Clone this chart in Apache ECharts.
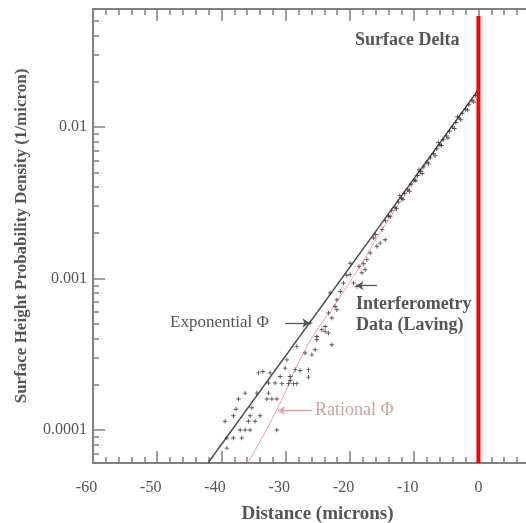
<!DOCTYPE html>
<html><head><meta charset="utf-8">
<script src="https://cdn.jsdelivr.net/npm/echarts@6/dist/echarts.min.js"></script>
<style>html,body{margin:0;padding:0;background:#fff}#c{width:526px;height:523px}</style>
</head><body><div id="c"></div>
<script>
// Interferometry data (Laving): [distance (microns), density (1/micron)]
const interferometryData = [
  [-34.25,2.38e-4],[-33.57,2.43e-4],[-32.43,2.38e-4],[-30.09,2.56e-4],[-28.53,2.50e-4],[-27.76,2.47e-4],
  [-26.46,2.50e-4],[-26.46,2.23e-4],[-30.87,2.25e-4],[-29.31,2.25e-4],[-32.69,2.04e-4],[-31.65,2.04e-4],
  [-30.61,2.02e-4],[-29.58,2.02e-4],[-28.8,2.02e-4],[-28.27,2.02e-4],[-29.31,2.12e-4],[-36.32,1.75e-4],
  [-34.5,1.75e-4],[-32.69,1.75e-4],[-37.37,1.60e-4],[-32.94,1.60e-4],[-32.16,1.60e-4],[-31.39,1.60e-4],
  [-37.73,1.37e-4],[-35.28,1.40e-4],[-38.15,1.24e-4],[-35.55,1.24e-4],[-33.99,1.24e-4],[-39.44,1.14e-4],
  [-35.81,1.14e-4],[-34.77,1.14e-4],[-37.1,1.0e-4],[-36.32,1.0e-4],[-35.55,1.0e-4],[-31.39,1.0e-4],
  [-39.17,8.84e-5],[-38.15,8.84e-5],[-36.84,8.84e-5],[-39.17,7.59e-5],[-28.27,3.56e-4],[-26.98,3.22e-4],
  [-25.93,3.13e-4],[-29.83,2.90e-4],
  [-26.2,5.08e-4],[-25.16,3.94e-4],[-25.42,3.38e-4],[-23.86,4.47e-4],[-23.35,4.36e-4],[-22.82,3.65e-4],
  [-22.04,6.21e-4],[-19.97,1.26e-3],[-21.01,9.33e-4],[-19.45,9.33e-4],[-18.93,8.85e-4],[-18.15,1.09e-3],
  [-17.63,1.14e-3],[-23.08,8.01e-4],[-22.04,7.23e-4],[-22.31,6.53e-4],[-23.35,5.91e-4],[-22.82,5.48e-4],
  [-24.38,4.58e-4],[-25.16,4.14e-4],[-23.86,4.82e-4],[-17.37,1.33e-3],[-16.85,1.47e-3],[-15.81,1.63e-3],
  [-15.3,1.71e-3],[-14.52,1.80e-3],[-19.97,1.06e-3],[-16.3,1.85e-3],[-15.0,2.10e-3],[-14.5,2.40e-3],
  [-16.0,1.95e-3],[-17.9,1.25e-3],[-18.6,1.20e-3],[-20.5,1.05e-3],[-21.5,8.2e-4],
  [-14.0,2.58e-3],[-13.5,2.80e-3],[-13.0,2.95e-3],[-12.5,3.20e-3],[-12.0,3.38e-3],[-11.5,3.65e-3],
  [-11.0,3.85e-3],[-10.5,4.18e-3],[-10.0,4.45e-3],[-9.5,4.78e-3],[-9.0,5.08e-3],[-8.5,5.45e-3],
  [-8.0,5.85e-3],[-7.5,6.25e-3],[-7.0,6.68e-3],[-6.5,7.18e-3],[-6.0,7.62e-3],[-5.5,8.22e-3],
  [-5.0,8.72e-3],[-4.5,9.35e-3],[-4.0,1.00e-2],[-3.5,1.07e-2],[-3.0,1.15e-2],[-2.5,1.23e-2],
  [-2.0,1.31e-2],[-1.5,1.40e-2],[-1.0,1.50e-2],[-0.5,1.61e-2],[-0.2,1.68e-2],
  [-13.75,2.55e-3],[-12.75,2.88e-3],[-11.75,3.33e-3],[-10.75,3.76e-3],[-9.75,4.41e-3],[-8.75,4.93e-3],
  [-7.75,5.70e-3],[-6.75,6.45e-3],[-5.75,7.54e-3],[-4.75,8.45e-3],[-3.75,9.76e-3],[-2.75,1.116e-2],
  [-1.75,1.292e-2],[-0.75,1.461e-2],
  [-12.25,3.52e-3],[-9.25,5.21e-3],[-6.25,7.88e-3],[-3.25,1.167e-2]
];
const exponentialPhi = [[-42.1,6.05e-5],[0,0.0176]];
const rationalPhi = [[-35.9,6.05e-5],[-31.4,1.355e-4],[-26.7,3.55e-4],[-22.0,7.08e-4],[-18.9,1.12e-3],
  [-15.3,2.0e-3],[-10,4.37e-3],[-5,8.91e-3],[0,0.0174]];
const surfaceDelta = [[0,6.05e-5],[0,0.054]];
const yTickValues = [0.0001,0.001,0.01];
const yTickLabels = ['0.0001','0.001','0.01'];
const xTickValues = [-60,-50,-40,-30,-20,-10,0];
const xTickLabels = ['-60','-50','-40','-30','-20','-10','0'];

const Y_MIN = Math.log10(6.05e-5), Y_MAX = Math.log10(0.060);
const X_MIN = -60, X_MAX = 7.4;
const L = v => Math.log10(v);
const toLog = arr => arr.map(p => [p[0], L(p[1])]);

const xMinor = [];
for (let x = -58; x <= 6; x += 2) if (x % 10 !== 0) xMinor.push(x);
const yMinor = [];
for (let n = -5; n <= -2; n++) for (let k = 2; k <= 9; k++) {
  const v = L(k * Math.pow(10, n));
  if (v > Y_MIN && v < Y_MAX) yMinor.push(v);
}
const axisColor = '#808080';
const serif = '"Liberation Serif", "DejaVu Serif", serif';

function xAx(pos, major, labels) {
  return {
    type: 'value', min: X_MIN, max: X_MAX, position: pos,
    axisLine: { show: major, onZero: false, lineStyle: { color: axisColor, width: 2 } },
    axisTick: { show: true, inside: true, length: major ? 12 : 6, customValues: major ? xTickValues : xMinor,
      lineStyle: { color: axisColor, width: 1.5 } },
    axisLabel: labels ? { show: true, customValues: xTickValues, margin: 17,
      formatter: v => { const i = xTickValues.indexOf(Math.round(v)); if (i < 0) return '';
        return xTickValues[i] < 0 ? '{n|' + xTickLabels[i] + '}' : '{z|' + xTickLabels[i] + '}'; },
      rich: { n: { padding: [0, 13, 0, 0], color: '#555', fontSize: 16, fontFamily: serif },
              z: { color: '#555', fontSize: 16, fontFamily: serif } },
      color: '#555', fontSize: 16, fontFamily: serif } : { show: false },
    splitLine: { show: false },
    name: labels ? 'Distance (microns)' : '', nameLocation: 'middle', nameGap: 42,
    nameTextStyle: { fontFamily: serif, fontWeight: 'bold', fontSize: 19, color: '#555', padding: [0,0,0,16] }
  };
}
function yAx(major) {
  return {
    type: 'value', min: Y_MIN, max: Y_MAX, position: 'left',
    axisLine: { show: major, onZero: false, lineStyle: { color: axisColor, width: 2 } },
    axisTick: { show: true, inside: true, length: major ? 12 : 6,
      customValues: major ? yTickValues.map(L) : yMinor, lineStyle: { color: axisColor, width: 1.5 } },
    axisLabel: major ? { show: true, customValues: yTickValues.map(L), margin: 6,
      formatter: v => { for (let i = 0; i < yTickValues.length; i++) if (Math.abs(L(yTickValues[i]) - v) < 1e-6) return yTickLabels[i]; return ''; },
      color: '#555', fontSize: 16, fontFamily: serif } : { show: false },
    splitLine: { show: false },
    name: major ? 'Surface Height Probability Density (1/micron)' : '', nameLocation: 'middle', nameGap: 63,
    nameTextStyle: { fontFamily: serif, fontWeight: 'bold', fontSize: 17, color: '#555' }
  };
}

const chart = echarts.init(document.getElementById('c'), null, { renderer: 'canvas' });
chart.setOption({
  animation: false,
  backgroundColor: '#fff',
  grid: { left: 93, right: 0, top: 9, bottom: 60, containLabel: false, outerBoundsMode: 'none' },
  xAxis: [xAx('bottom', true, true), xAx('bottom', false, false), xAx('top', true, false), xAx('top', false, false)],
  yAxis: [yAx(true), yAx(false)],
  series: [
    { type: 'line', name: 'Exponential', data: toLog(exponentialPhi), showSymbol: false, symbol: 'none',
      lineStyle: { color: '#4a4a4a', width: 1.4 }, z: 3,
      markLine: { silent: true, symbol: ['none', 'arrow'], symbolSize: 7, label: { show: false },
        lineStyle: { color: '#555', width: 1.3, type: 'solid' },
        data: [
          [{ coord: [-30.09, -3.294] }, { coord: [-26.3, -3.294] }],
          [{ coord: [-15.82, -3.048] }, { coord: [-19.0, -3.048] }],
          [{ coord: [-25.89, -3.873], lineStyle: { color: '#d9a9a9' } }, { coord: [-31.2, -3.873] }]
        ] } },
    { type: 'line', name: 'Rational', data: toLog(rationalPhi), smooth: true, showSymbol: false, symbol: 'none',
      lineStyle: { color: '#e3a3a3', width: 1 }, z: 2 },
    { type: 'scatter', name: 'Interferometry', data: toLog(interferometryData),
      symbol: 'path://M0,2L5,2L5,3L0,3Z M2,0L3,0L3,5L2,5Z', symbolSize: 4.5,
      itemStyle: { color: '#2a2a2a' }, z: 4 },
    { type: 'line', name: 'Surface Delta', data: toLog(surfaceDelta), showSymbol: false, symbol: 'none',
      lineStyle: { color: '#ff0000', width: 4 }, z: 5 }
  ],
  graphic: [
    { type: 'text', left: 355, top: 31, style: { text: 'Surface Delta', font: 'bold 18px ' + serif, fill: '#555' } },
    { type: 'text', left: 356, top: 295, style: { text: 'Interferometry', font: 'bold 18px ' + serif, fill: '#555' } },
    { type: 'text', left: 356, top: 316, style: { text: 'Data (Laving)', font: 'bold 18px ' + serif, fill: '#555' } },
    { type: 'text', left: 170, top: 314, style: { text: 'Exponential Φ', font: '17px ' + serif, fill: '#555' } },
    { type: 'text', left: 315, top: 401, style: { text: 'Rational Φ', font: '18px ' + serif, fill: '#cfa3a3' } }
  ]
});
</script></body></html>
